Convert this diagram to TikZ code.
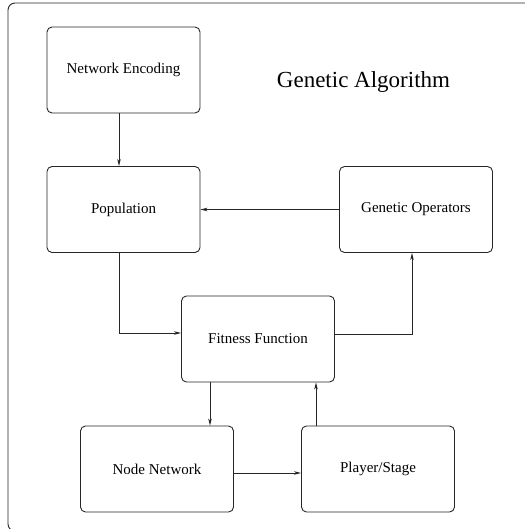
\documentclass[tikz,border=0pt]{standalone}
\usepackage{fontspec}
\setmainfont{Liberation Serif}
\usetikzlibrary{arrows.meta}
\begin{document}
\begin{tikzpicture}[x=1pt,y=-1pt,
  blk/.style={draw=black!85,line width=0.9pt,rounded corners=5pt,minimum width=153pt,minimum height=86pt,inner sep=0pt,font=\fontsize{15}{18}\selectfont},
  conn/.style={draw=black!85,line width=0.9pt,-{Stealth[length=7pt,width=3.5pt,inset=2pt]}}]
\useasboundingbox (0,0) rectangle (524,529);
\draw[black!85,line width=0.9pt,rounded corners=7pt] (8,3) rectangle (540,531);
\node[blk] (ne) at (123.5,70) {Network Encoding};
\node[blk] (pop) at (123.5,209.5) {Population};
\node[blk] (go) at (416,209.5) {Genetic Operators};
\node[blk] (ff) at (258,339) {Fitness Function};
\node[blk] (nn) at (157,469) {Node Network};
\node[blk] (ps) at (378,469) {Player/Stage};
\node[font=\fontsize{23}{27}\selectfont] (title) at (363.5,82) {Genetic Algorithm};
\draw[conn] (ne.south -| 119,0) -- (pop.north -| 119,0);
\draw[conn] (go.west) -- (pop.east);
\draw[conn] (pop.south -| 119,0) |- (ff.west |- 0,333);
\draw[conn] (ff.east |- 0,334) -| (go.south -| 412,0);
\draw[conn] (ff.south -| 210,0) -- (nn.north -| 210,0);
\draw[conn] (nn.east |- 0,473) -- (ps.west |- 0,473);
\draw[conn] (ps.north -| 316,0) -- (ff.south -| 316,0);
\end{tikzpicture}
\end{document}
